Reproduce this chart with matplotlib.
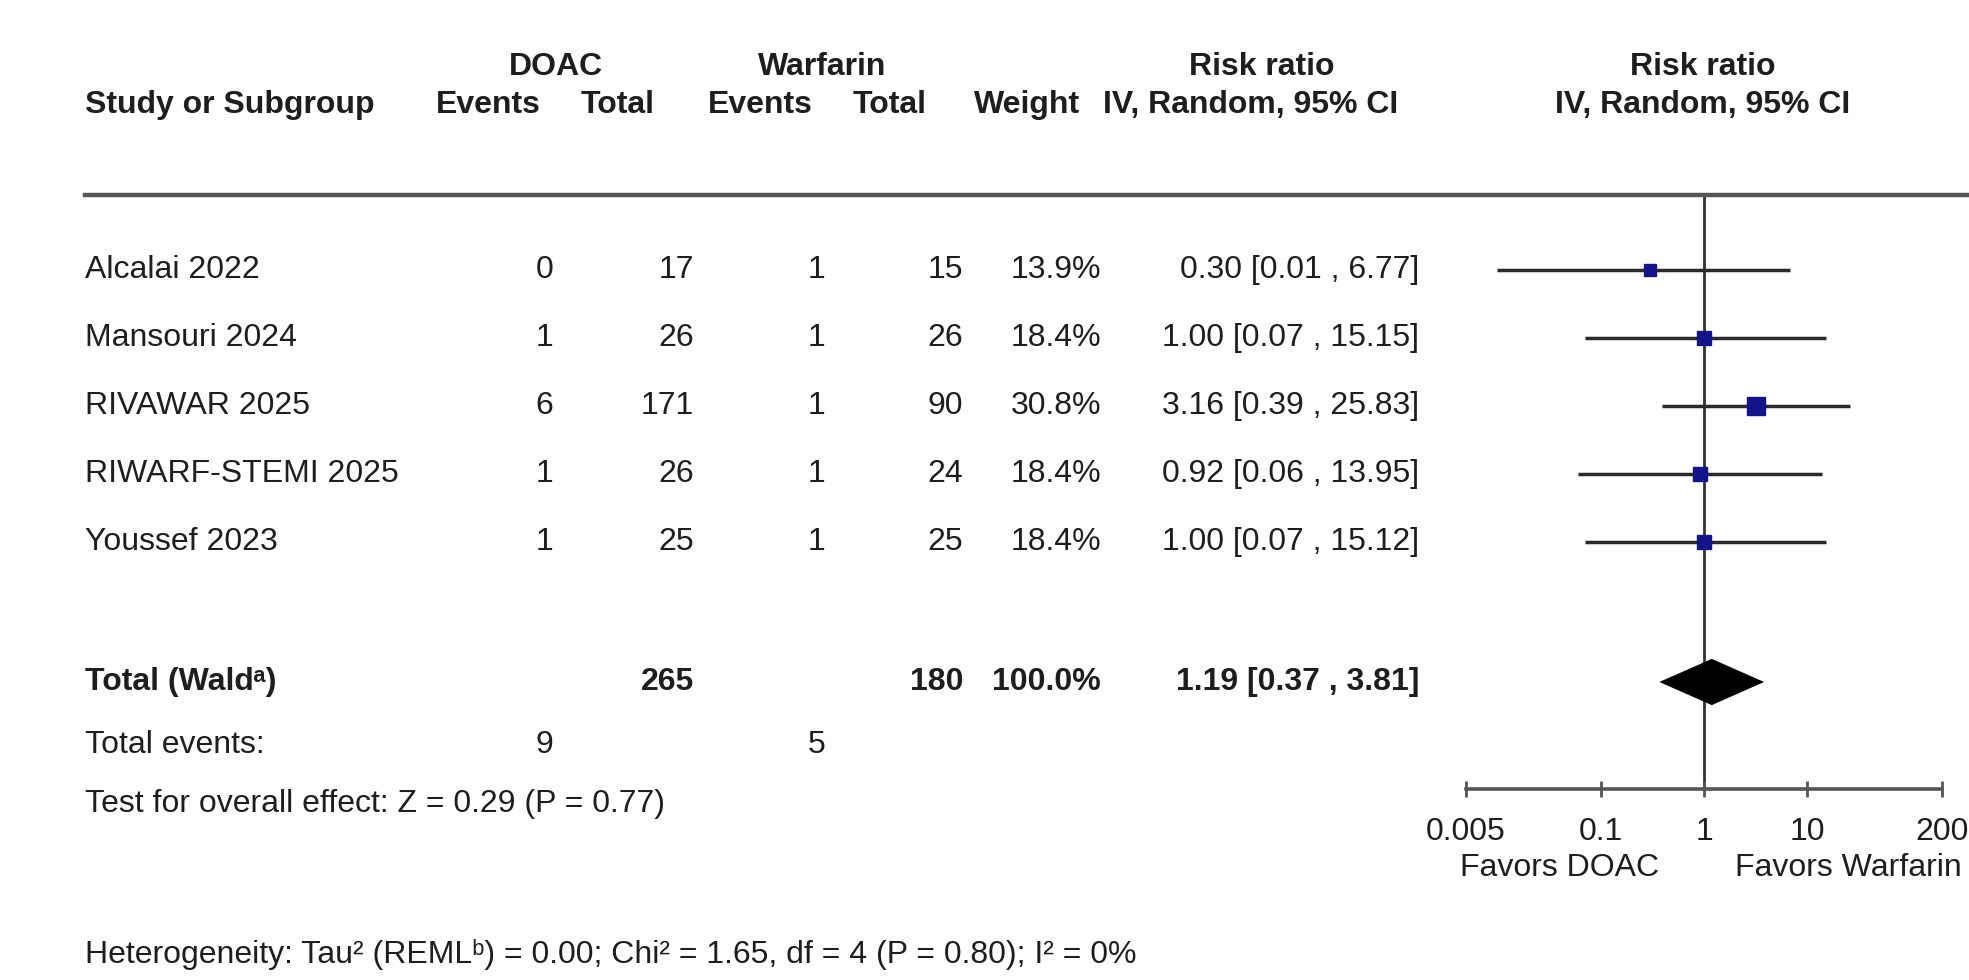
import matplotlib
matplotlib.use("Agg")
import matplotlib.pyplot as plt
from matplotlib import font_manager
from matplotlib.ticker import FixedLocator, FixedFormatter, NullLocator

# ---- data -------------------------------------------------------------
studies = ["Alcalai 2022", "Mansouri 2024", "RIVAWAR 2025",
           "RIWARF-STEMI 2025", "Youssef 2023"]
doac_events = [0, 1, 6, 1, 1]
doac_total = [17, 26, 171, 26, 25]
warf_events = [1, 1, 1, 1, 1]
warf_total = [15, 26, 90, 24, 25]
weights = [13.9, 18.4, 30.8, 18.4, 18.4]
rr = [0.30, 1.00, 3.16, 0.92, 1.00]
rr_lo = [0.01, 0.07, 0.39, 0.06, 0.07]
rr_hi = [6.77, 15.15, 25.83, 13.95, 15.12]

pooled_rr = 1.19
pooled_lo = 0.37
pooled_hi = 3.81
pooled_weight = 100.0

axis_ticks = [0.005, 0.1, 1, 10, 200]
axis_labels = ["0.005", "0.1", "1", "10", "200"]

overall_text = "Test for overall effect: Z = 0.29 (P = 0.77)"
hetero_text = ("Heterogeneity: Tau\u00b2 (REML\u1d47) = 0.00; Chi\u00b2 = 1.65, "
               "df = 4 (P = 0.80); I\u00b2 = 0%")

# ---- fonts --------------------------------------------------------------
available = {f.name for f in font_manager.fontManager.ttflist}
if "Liberation Sans Narrow" in available:
    FAMILY = ["Liberation Sans Narrow", "DejaVu Sans"]
    FS = 27
else:
    FAMILY = ["Liberation Sans", "DejaVu Sans"]
    FS = 23
plt.rcParams["font.family"] = FAMILY

W, H = 1969, 980
TXT = "#1e1e1e"

fig = plt.figure(figsize=(W / 100, H / 100), dpi=100)
fig.patch.set_facecolor("white")


def put(x, y, s, ha="left", bold=False, size=None, color=TXT):
    fig.text(x / W, 1 - y / H, s, ha=ha, va="center",
             fontsize=FS if size is None else size,
             fontweight="bold" if bold else "normal", color=color,
             family=FAMILY)


# ---- table headers ---------------------------------------------------------
put(556, 67, "DOAC", ha="center", bold=True)
put(822, 67, "Warfarin", ha="center", bold=True)
put(1262, 67, "Risk ratio", ha="center", bold=True)
put(1703, 67, "Risk ratio", ha="center", bold=True)

put(85, 105, "Study or Subgroup", bold=True)
put(488, 105, "Events", ha="center", bold=True)
put(618, 105, "Total", ha="center", bold=True)
put(760, 105, "Events", ha="center", bold=True)
put(890, 105, "Total", ha="center", bold=True)
put(1027, 105, "Weight", ha="center", bold=True)
put(1251, 105, "IV, Random, 95% CI", ha="center", bold=True)
put(1703, 105, "IV, Random, 95% CI", ha="center", bold=True)

fig.add_artist(plt.Line2D([85 / W, 1.0], [1 - 195 / H, 1 - 195 / H],
                          transform=fig.transFigure, color="#555555", lw=3.2))

# ---- study rows ---------------------------------------------------------------
COL_DE, COL_DT, COL_WE, COL_WT, COL_W, COL_RR = 553, 694, 825, 963, 1101, 1419
row_y = [270 + 68 * i for i in range(len(studies))]

for i, name in enumerate(studies):
    y = row_y[i]
    put(85, y, name)
    put(COL_DE, y, f"{doac_events[i]}", ha="right")
    put(COL_DT, y, f"{doac_total[i]}", ha="right")
    put(COL_WE, y, f"{warf_events[i]}", ha="right")
    put(COL_WT, y, f"{warf_total[i]}", ha="right")
    put(COL_W, y, f"{weights[i]:.1f}%", ha="right")
    put(COL_RR, y, f"{rr[i]:.2f} [{rr_lo[i]:.2f} , {rr_hi[i]:.2f}]", ha="right")

# ---- totals ---------------------------------------------------------------------
Y_TOT, Y_EV, Y_TEST, Y_HET = 682, 745, 804, 954
put(85, Y_TOT, "Total (Wald\u1d43)", bold=True)
put(COL_DT, Y_TOT, f"{sum(doac_total)}", ha="right", bold=True)
put(COL_WT, Y_TOT, f"{sum(warf_total)}", ha="right", bold=True)
put(COL_W, Y_TOT, f"{pooled_weight:.1f}%", ha="right", bold=True)
put(COL_RR, Y_TOT, f"{pooled_rr:.2f} [{pooled_lo:.2f} , {pooled_hi:.2f}]",
    ha="right", bold=True)

put(85, Y_EV, "Total events:")
put(COL_DE, Y_EV, f"{sum(doac_events)}", ha="right")
put(COL_WE, Y_EV, f"{sum(warf_events)}", ha="right")
put(85, Y_TEST, overall_text)
put(85, Y_HET, hetero_text)

# ---- forest panel ------------------------------------------------------------------
X0, X1 = 1466, 1942          # pixel span of 0.005 .. 200
Y_TOP, Y_AX = 195, 789       # top rule and axis line
ax = fig.add_axes([X0 / W, 1 - Y_AX / H, (X1 - X0) / W, (Y_AX - Y_TOP) / H])
ax.set_xscale("log")
ax.set_xlim(axis_ticks[0], axis_ticks[-1])


def to_row(ypix):
    return (ypix - row_y[0]) / 68.0


ax.set_ylim(to_row(Y_AX), to_row(Y_TOP))
ax.patch.set_alpha(0)
for side in ("top", "right", "left"):
    ax.spines[side].set_visible(False)
ax.spines["bottom"].set_color("#555555")
ax.spines["bottom"].set_linewidth(2.6)

ax.axvline(1, color="#333333", lw=2, zorder=1)

for i in range(len(studies)):
    yi = to_row(row_y[i])
    ax.plot([rr_lo[i], rr_hi[i]], [yi, yi], color="#2a2a2a", lw=2.5,
            solid_capstyle="butt", zorder=2)
    ax.plot([rr[i]], [yi], marker="s", ms=0.33 * weights[i] + 3.4,
            color="#14148a", mec="#14148a", zorder=3)

yt = to_row(Y_TOT)
dh = 0.34
ax.fill([pooled_lo, pooled_rr, pooled_hi, pooled_rr],
        [yt, yt - dh, yt, yt + dh], color="black", zorder=3, lw=0)

ax.yaxis.set_major_locator(NullLocator())
ax.xaxis.set_major_locator(FixedLocator(axis_ticks))
ax.xaxis.set_major_formatter(FixedFormatter(axis_labels))
ax.xaxis.set_minor_locator(NullLocator())
ax.tick_params(axis="x", direction="inout", length=12, width=2,
               color="#555555", pad=14, labelsize=FS, labelcolor=TXT)
for lab in ax.get_xticklabels():
    lab.set_family(FAMILY)

put(1560, 868, "Favors DOAC", ha="center")
put(1962, 868, "Favors Warfarin", ha="right")

fig.savefig("out.png", dpi=100, facecolor="white")
